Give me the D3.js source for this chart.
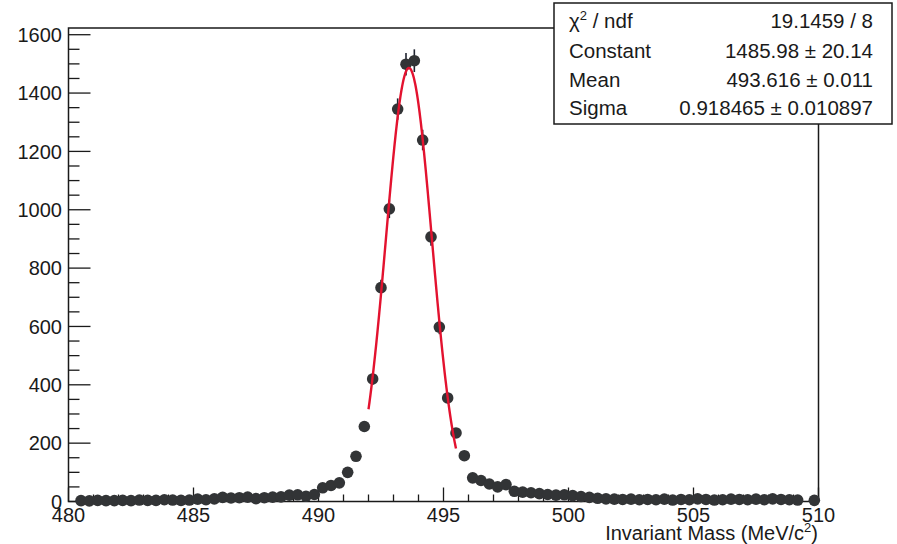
<!DOCTYPE html>
<html>
<head>
<meta charset="utf-8">
<script src="https://cdn.jsdelivr.net/npm/d3@7/dist/d3.min.js"></script>
<style>
  html, body { margin: 0; padding: 0; background: #fff; }
  svg { display: block; font-family: "Liberation Sans", Arial, Helvetica, sans-serif; }
</style>
</head>
<body>
<svg id="chart" width="897" height="544"></svg>
<script>
// ---- data ----
const xRange = [480, 510];
const binWidth = 1 / 3;
// counts per bin (90 bins, 480..510); zero bins are not drawn (ROOT style)
const counts = [
  0, 3, 2, 4, 3, 3, 4, 3, 5, 4, 4, 6, 5, 4, 5,            // 480.0 - 485.0
  8, 6, 9, 14, 12, 13, 15, 10, 13, 15, 16, 22, 23, 18, 24, // 485.0 - 490.0
  47, 55, 64, 100, 155, 257, 420, 733, 1003, 1345, 1499, 1511, 1239, 907, 598, // 490.0 - 495.0
  355, 235, 157, 81, 72, 60, 50, 58, 35, 32, 30, 27, 24, 22, 23, // 495.0 - 500.0
  20, 17, 14, 11, 9, 8, 7, 8, 6, 7, 6, 8, 5, 7, 6,        // 500.0 - 505.0
  9, 7, 5, 6, 8, 7, 6, 8, 6, 9, 7, 6, 5, 0, 4             // 505.0 - 510.0
];
const fitParams = { constant: 1485.98, mean: 493.616, sigma: 0.918465 };
const fitRange = [492.0, 495.5];
const statsRows = [
  ["χ² / ndf", "19.1459 / 8"],
  ["Constant", "1485.98 ± 20.14"],
  ["Mean", "493.616 ± 0.011"],
  ["Sigma", "0.918465 ± 0.010897"]
];
const xTicks = [480, 485, 490, 495, 500, 505, 510];
const yTicks = [0, 200, 400, 600, 800, 1000, 1200, 1400, 1600];
const xTitle = "Invariant Mass (MeV/c";

// ---- layout ----
const svg = d3.select("#chart");
const x = d3.scaleLinear().domain(xRange).range([68.5, 818.5]);
const y = d3.scaleLinear().domain([0, 1623]).range([501.5, 28]);
const ink = "#1a1a1a";

const bins = counts.map((c, i) => ({ x: xRange[0] + (i + 0.5) * binWidth, c }));
const shown = bins.filter(b => b.c > 0);

// frame
svg.append("rect")
  .attr("x", x(xRange[0])).attr("y", y(1623))
  .attr("width", x(xRange[1]) - x(xRange[0]))
  .attr("height", y(0) - y(1623))
  .attr("fill", "none").attr("stroke", ink).attr("stroke-width", 1.5);

// x axis ticks (inside, upward)
const xMinor = d3.range(xRange[0], xRange[1] + 0.001, 1);
svg.append("g").selectAll("line").data(xMinor).join("line")
  .attr("x1", d => x(d)).attr("x2", d => x(d))
  .attr("y1", y(0)).attr("y2", d => y(0) - (d % 5 === 0 ? 14 : 7))
  .attr("stroke", ink).attr("stroke-width", 1.3);

svg.append("g").selectAll("text").data(xTicks).join("text")
  .attr("x", d => x(d)).attr("y", 522)
  .attr("text-anchor", "middle")
  .attr("font-size", 20).attr("fill", ink)
  .text(d => d);

// y axis ticks (inside, rightward)
const yMinor = d3.range(0, 1601, 50);
svg.append("g").selectAll("line").data(yMinor).join("line")
  .attr("x1", x(xRange[0])).attr("x2", d => x(xRange[0]) + (d % 200 === 0 ? 22 : 11))
  .attr("y1", d => y(d)).attr("y2", d => y(d))
  .attr("stroke", ink).attr("stroke-width", 1.3);

svg.append("g").selectAll("text").data(yTicks).join("text")
  .attr("x", 62).attr("y", d => y(d))
  .attr("dy", "0.36em")
  .attr("text-anchor", "end")
  .attr("font-size", 20).attr("fill", ink)
  .text(d => d);

// x axis title
const xt = svg.append("text")
  .attr("x", 818).attr("y", 540)
  .attr("text-anchor", "end")
  .attr("font-size", 20).attr("fill", ink);
xt.append("tspan").text(xTitle);
xt.append("tspan").attr("dy", -8).attr("font-size", 13).text("2");
xt.append("tspan").attr("dy", 8).text(")");

// error bars
svg.append("g").selectAll("line").data(shown).join("line")
  .attr("x1", d => x(d.x)).attr("x2", d => x(d.x))
  .attr("y1", d => y(d.c + Math.sqrt(d.c)))
  .attr("y2", d => y(Math.max(0, d.c - Math.sqrt(d.c))))
  .attr("stroke", "#1f2430").attr("stroke-width", 1.6);

// markers
svg.append("g").selectAll("circle").data(shown).join("circle")
  .attr("cx", d => x(d.x)).attr("cy", d => y(d.c))
  .attr("r", 5.8)
  .attr("fill", "#323436");

// fit curve
const gauss = t => fitParams.constant * Math.exp(-0.5 * Math.pow((t - fitParams.mean) / fitParams.sigma, 2));
const fitPts = d3.range(0, 201).map(k => {
  const t = fitRange[0] + (fitRange[1] - fitRange[0]) * k / 200;
  return [t, gauss(t)];
});
svg.append("path")
  .datum(fitPts)
  .attr("d", d3.line().x(d => x(d[0])).y(d => y(d[1])))
  .attr("fill", "none").attr("stroke", "#e3122f").attr("stroke-width", 2.4);

// stats box
const box = { x0: 554, y0: 3, x1: 892, y1: 124 };
svg.append("rect")
  .attr("x", box.x0).attr("y", box.y0)
  .attr("width", box.x1 - box.x0).attr("height", box.y1 - box.y0)
  .attr("fill", "#fff").attr("stroke", ink).attr("stroke-width", 1.5);

const rowY = [28, 57.5, 86.5, 115];
statsRows.forEach((r, i) => {
  const lt = svg.append("text")
    .attr("x", 569).attr("y", rowY[i])
    .attr("font-size", 20.5).attr("fill", ink);
  if (i === 0) {
    lt.append("tspan").text("χ");
    lt.append("tspan").attr("dy", -8).attr("font-size", 13).text("2");
    lt.append("tspan").attr("dy", 8).text(" / ndf");
  } else {
    lt.text(r[0]);
  }
  svg.append("text")
    .attr("x", 873).attr("y", rowY[i])
    .attr("text-anchor", "end")
    .attr("font-size", 20.5).attr("fill", ink)
    .text(r[1]);
});
</script>
</body>
</html>
